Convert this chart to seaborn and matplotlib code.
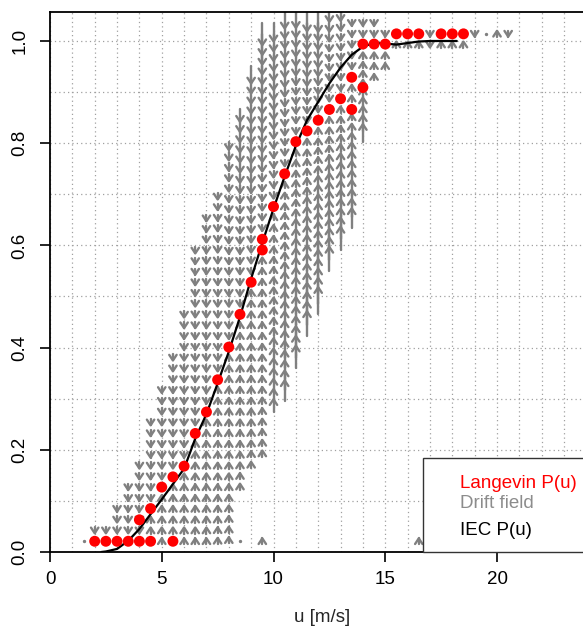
import numpy as np
import pandas as pd
import matplotlib
matplotlib.use("Agg")
import matplotlib.pyplot as plt
import seaborn as sns
from matplotlib.collections import LineCollection
from matplotlib.patches import Rectangle
from matplotlib.ticker import MultipleLocator

sns.set_style("white")
plt.rcParams['font.family'] = ['Liberation Sans', 'DejaVu Sans']

# ---------------- data ----------------
# IEC power curve (normalised power vs wind speed)
iec_u = [2.3, 2.5, 3.0, 3.5, 4.0, 4.5, 5.0, 5.5, 6.0, 6.5, 7.0, 7.5, 8.0, 8.5, 9.0, 9.5,
         10.0, 10.5, 11.0, 11.5, 12.0, 12.5, 13.0, 13.5, 14.0, 14.5, 15.0, 15.5, 16.0,
         16.5, 17.0, 17.5, 18.0, 18.2]
iec_p = [0.0, 0.001, 0.006, 0.022, 0.045, 0.074, 0.103, 0.133, 0.163, 0.222, 0.270, 0.330,
         0.392, 0.460, 0.535, 0.605, 0.672, 0.735, 0.795, 0.845, 0.881, 0.917, 0.948, 0.973,
         0.989, 0.996, 0.995, 0.993, 0.996, 0.999, 1.0, 1.0, 1.0, 1.0]

# Langevin power curve (stable fixed points of the drift field)
langevin_u = [2.0, 2.5, 3.0, 3.5, 4.0, 4.5, 5.5, 4.0, 4.5, 5.0, 5.5, 6.0, 6.5, 7.0, 7.5, 8.0,
              8.5, 9.0, 9.5, 9.5, 10.0, 10.5, 11.0, 11.5, 12.0, 12.5, 13.0, 13.5, 13.5, 14.0,
              14.0, 14.5, 15.0, 15.5, 16.0, 16.5, 17.5, 18.0, 18.5]
langevin_p = [0.021, 0.021, 0.021, 0.021, 0.021, 0.021, 0.021, 0.063, 0.085, 0.127, 0.147,
              0.168, 0.232, 0.274, 0.337, 0.401, 0.465, 0.528, 0.591, 0.612, 0.676, 0.740,
              0.803, 0.824, 0.845, 0.866, 0.887, 0.866, 0.929, 0.909, 0.994, 0.994, 0.994,
              1.014, 1.014, 1.014, 1.014, 1.014, 1.014]

# Drift field: power bins of width P_STEP, wind-speed columns every 0.5 m/s
P_STEP = 0.02113
drift_u   = [2.0, 2.5, 3.0, 3.5, 4.0, 4.5, 5.0, 5.5, 6.0, 6.5, 7.0, 7.5, 8.0, 8.5, 9.0, 9.5,
             10.0, 10.5, 11.0, 11.5, 12.0, 12.5, 13.0, 13.5, 14.0, 14.5, 15.0, 15.5, 16.0,
             16.5, 17.0, 17.5, 18.0, 18.5, 19.0, 20.0, 20.5]
# bins with downward drift (lo..hi), 0 = none
down_lo   = [2, 2, 2, 2, 2, 5, 7, 8, 9, 12, 14, 17, 20, 23, 26, 30, 33, 36, 39, 40, 41, 42, 43,
             45, 48, 48, 48, 0, 0, 0, 47, 0, 0, 0, 48, 0, 48]
down_hi   = [2, 2, 4, 6, 8, 12, 15, 18, 22, 28, 31, 33, 38, 41, 45, 49, 49, 50, 50, 50, 50, 50,
             50, 49, 49, 49, 48, 0, 0, 0, 48, 0, 0, 0, 48, 0, 48]
# bins with upward drift (lo..hi), 0 = none
up_lo     = [0, 0, 0, 0, 0, 2, 1, 2, 1, 1, 1, 1, 1, 6, 8, 9, 13, 14, 17, 20, 22, 26, 28, 30,
             38, 44, 45, 47, 47, 47, 0, 47, 47, 47, 0, 48, 0]
up_hi     = [0, 0, 0, 0, 0, 3, 5, 6, 7, 10, 12, 15, 18, 21, 24, 27, 31, 34, 37, 38, 39, 40, 41,
             43, 46, 46, 46, 47, 47, 47, 0, 47, 47, 47, 0, 48, 0]
# bin of the zero-drift level and drift gains (per column)
fix_bin   = [1, 1, 1, 1, 3, 4, 6, 7, 8, 11, 13, 16, 19, 22, 25, 28.5, 32, 35, 38, 39, 40, 41,
             42, 44, 47, 47, 47, 48, 48, 48, 46, 48, 48, 48, 47, 49, 47]
gain_down = [0.02, 0.02, 0.02, 0.02, 0.02, 0.02, 0.02, 0.02, 0.02, 0.02, 0.02, 0.02, 0.04,
             0.06, 0.08, 0.10, 0.10, 0.10, 0.12, 0.16, 0.18, 0.10, 0.10, 0.05, 0.05, 0.02,
             0.02, 0.02, 0.02, 0.02, 0.02, 0.02, 0.02, 0.02, 0.02, 0.02, 0.02]
gain_up   = [0.02, 0.02, 0.02, 0.02, 0.02, 0.02, 0.02, 0.02, 0.02, 0.02, 0.02, 0.02, 0.02,
             0.02, 0.02, 0.02, 0.06, 0.09, 0.10, 0.12, 0.14, 0.15, 0.15, 0.13, 0.18, 0.05,
             0.05, 0.05, 0.05, 0.05, 0.05, 0.05, 0.05, 0.05, 0.05, 0.05, 0.05]
# isolated drift cells: direction +1 up, -1 down, 0 (vanishing drift)
extra_u   = [1.5, 8.5, 9.5, 16.5, 19.5]
extra_bin = [1, 1, 1, 1, 48]
extra_dir = [0, 0, 1, 1, 0]

legend_labels = ["Langevin P(u)", "Drift field", "IEC P(u)"]
legend_colors = ["#FF0000", "#8C8C8C", "#000000"]

# ---------------- figure ----------------
W, H = 583, 626
fig = plt.figure(figsize=(W / 100, H / 100), dpi=100)
ax_l, ax_r, ax_t, ax_b = 50, 594, 12, 552
ax = fig.add_axes([ax_l / W, 1 - ax_b / H, (ax_r - ax_l) / W, (ax_b - ax_t) / H])
PPU_X = 22.35
PPU_Y = 511.0
ax.set_xlim(0, (ax_r - ax_l) / PPU_X)
ax.set_ylim(0, (ax_b - ax_t) / PPU_Y)

# grid
ax.xaxis.set_major_locator(MultipleLocator(5))
ax.xaxis.set_minor_locator(MultipleLocator(1))
ax.yaxis.set_major_locator(MultipleLocator(0.2))
ax.yaxis.set_minor_locator(MultipleLocator(0.1))
ax.grid(True, which='both', color='#A0A0A0', linestyle=(0, (1, 2.5)), linewidth=0.9)
ax.set_axisbelow(True)

# drift field arrows
GRAY = '#808080'
hx = 3.7 / PPU_X       # half width of arrow head
hy = 5.6 / PPU_Y       # height of arrow head
stem = 6.0 / PPU_Y     # minimum visible shaft length
segs = []
dots_u, dots_p = [], []


def add_arrow(u, p, d):
    sgn = 1.0 if d > 0 else -1.0
    L = abs(d)
    tip = p + sgn * max(L, hy * 0.5)
    start = tip - sgn * max(L, stem)
    segs.append([(u, start), (u, tip)])
    segs.append([(u - hx, tip - sgn * hy), (u, tip), (u + hx, tip - sgn * hy)])


for i, u in enumerate(drift_u):
    if down_hi[i] > 0:
        for k in range(down_lo[i], down_hi[i] + 1):
            p = k * P_STEP
            d = -max(gain_down[i] * (k - fix_bin[i]) * P_STEP, 0.0)
            add_arrow(u, p, d if d < 0 else -1e-9)
    if up_hi[i] > 0:
        for k in range(up_lo[i], up_hi[i] + 1):
            p = k * P_STEP
            d = max(gain_up[i] * (fix_bin[i] - k) * P_STEP, 0.0)
            add_arrow(u, p, d if d > 0 else 1e-9)
for u, k, s in zip(extra_u, extra_bin, extra_dir):
    if s == 0:
        dots_u.append(u)
        dots_p.append(k * P_STEP)
    else:
        add_arrow(u, k * P_STEP, s * 1e-9)

lc = LineCollection(segs, colors=GRAY, linewidths=1.7, capstyle='round',
                    joinstyle='round', zorder=2)
ax.add_collection(lc)
ax.scatter(dots_u, dots_p, s=2, color=GRAY, zorder=2)

# IEC curve
sns.lineplot(x=iec_u, y=iec_p, color='black', linewidth=1.6, ax=ax, zorder=3)
# Langevin points
sns.scatterplot(x=langevin_u, y=langevin_p, color='#FF0000', s=62, edgecolor='none',
                ax=ax, zorder=4)

# legend box (extends beyond the right edge)
leg_x0, leg_y1 = 16.70, 0.1846
ax.add_patch(Rectangle((leg_x0, 0), 20, leg_y1, facecolor='white', edgecolor='#333333',
                       linewidth=1.0, zorder=5, clip_on=False))
for lab, col, yy in zip(legend_labels, legend_colors, [0.134, 0.094, 0.043]):
    ax.text(18.34, yy, lab, color=col, fontsize=13.5, ha='left', va='center', zorder=6)

# spines / ticks
for s in ['left', 'bottom', 'top']:
    ax.spines[s].set_visible(True)
    ax.spines[s].set_color('black')
    ax.spines[s].set_linewidth(1.3)
ax.spines['right'].set_visible(False)
ax.set_xticks([0, 5, 10, 15, 20])
ax.set_yticks([0.0, 0.2, 0.4, 0.6, 0.8, 1.0])
ax.set_yticklabels(['0.0', '0.2', '0.4', '0.6', '0.8', '1.0'])
ax.tick_params(which='major', direction='out', length=7.5, width=1.2, colors='black',
               labelsize=13.5, bottom=True, left=True)
ax.tick_params(axis='x', pad=6)
ax.tick_params(axis='y', pad=8, labelrotation=90)
for t in ax.get_yticklabels():
    t.set_va('center')
ax.tick_params(which='minor', length=0)
ax.set_xlabel('u [m/s]', fontsize=13.5, labelpad=15)
ax.set_ylabel('')

fig.savefig('out.png', dpi=100)
